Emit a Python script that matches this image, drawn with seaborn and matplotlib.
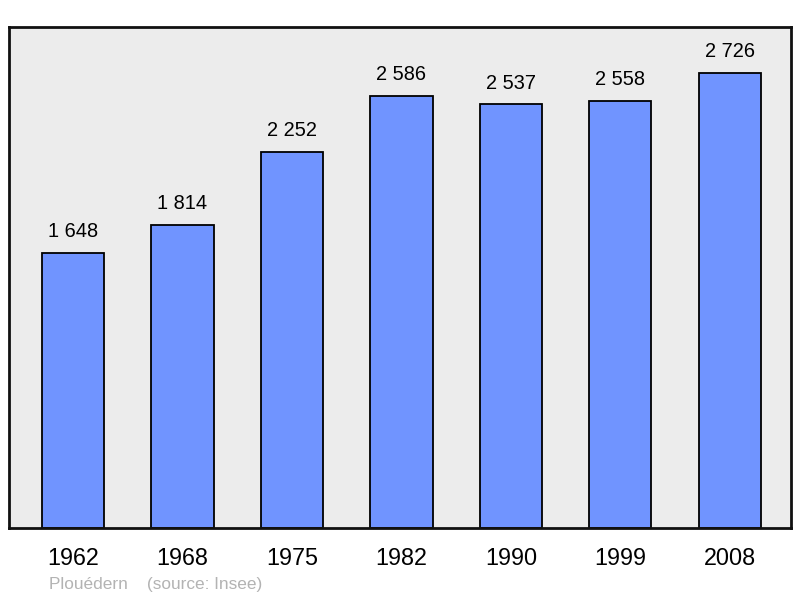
import matplotlib
matplotlib.use('Agg')
import matplotlib.pyplot as plt
import seaborn as sns
import pandas as pd

# Population figures (Plouédern, source: Insee)
years = ['1962', '1968', '1975', '1982', '1990', '1999', '2008']
population = [1648, 1814, 2252, 2586, 2537, 2558, 2726]
value_labels = ['1 648', '1 814', '2 252', '2 586', '2 537', '2 558', '2 726']

sns.set_style('white')
plt.rcParams['font.family'] = ['Liberation Sans', 'DejaVu Sans']

df = pd.DataFrame({'year': years, 'population': population})

fig = plt.figure(figsize=(8, 5.98), dpi=100)
ax = fig.add_axes([9 / 800, 70 / 598, 782 / 800, 501 / 598])
ax.set_facecolor('#ececec')

sns.barplot(data=df, x='year', y='population', color='#7094ff', saturation=1,
            width=0.57, edgecolor='black', linewidth=1.3, ax=ax)

for i, (v, lab) in enumerate(zip(population, value_labels)):
    ax.text(i, v + 70, lab, ha='center', va='bottom', fontsize=14.4, color='black')

ax.set_ylim(0, 3000)
ax.set_xlim(-0.585, 6.56)
ax.set_yticks([])
ax.set_xlabel('')
ax.set_ylabel('')
ax.tick_params(axis='x', length=0, labelsize=16.8, pad=14, labelcolor='black')
for s in ax.spines.values():
    s.set_visible(True)
    s.set_color('#111111')
    s.set_linewidth(2)

fig.text(49 / 800, 1 - 584 / 598, 'Plouédern    (source: Insee)', fontsize=12.4,
         color='#b3b3b3', ha='left', va='center')

fig.savefig('out.png', dpi=100)
